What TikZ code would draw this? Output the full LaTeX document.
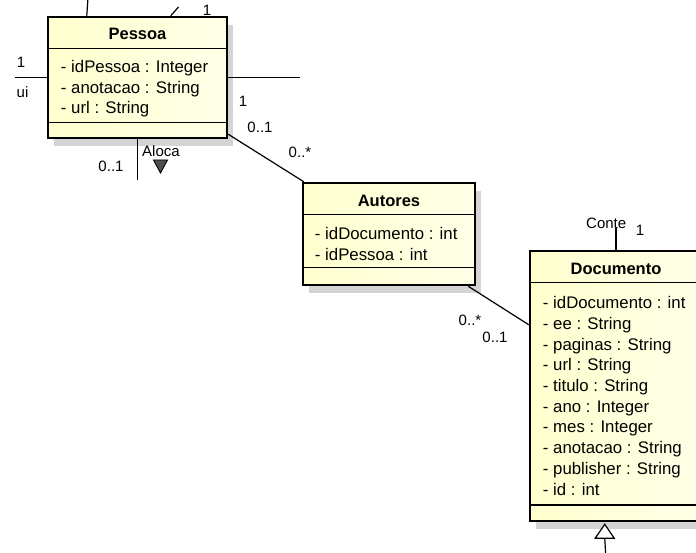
\documentclass[tikz,border=0pt]{standalone}
\usepackage{fontspec}
\setmainfont{Liberation Sans}
\usetikzlibrary{calc,shadows}
\definecolor{classfillA}{RGB}{255,255,206}
\definecolor{classfillB}{RGB}{255,255,232}
\definecolor{classshade}{RGB}{212,212,212}
\definecolor{navfill}{RGB}{78,78,78}

\begin{document}
\begin{tikzpicture}[x=1pt,y=-1pt,
  classbox/.style={draw=black, line width=2.5pt, inner sep=0pt,
    left color=classfillA, right color=classfillB,
    drop shadow={shadow xshift=6pt, shadow yshift=-8pt, fill=classshade, opacity=1}},
  sepline/.style={draw=black, line width=1.5pt},
  classtitle/.style={font=\fontsize{16.5}{19}\selectfont\bfseries, inner sep=0pt, anchor=center},
  attr/.style={font=\fontsize{16.8}{20}\selectfont, inner sep=0pt, anchor=base west},
  mult/.style={font=\fontsize{15}{18}\selectfont, inner sep=0pt, anchor=center},
  assoc/.style={draw=black, line width=1.2pt}]

\useasboundingbox (0,0) rectangle (696,553);
\clip (0,0) rectangle (696,553);

% ---------- class Pessoa ----------
\node[classbox, minimum width=179pt, minimum height=121pt] (pessoa) at (137.5,77.5) {};
\draw[sepline] ($(pessoa.north west)+(0,33)$) -- ($(pessoa.north east)+(0,33)$);
\draw[sepline] ($(pessoa.north west)+(0,107)$) -- ($(pessoa.north east)+(0,107)$);
\node[classtitle] (pessoa-name) at ($(pessoa.north)+(0,18)$) {Pessoa};
\foreach \t [count=\i, evaluate=\i as \dy using 57+20.3*(\i-1)] in
  {- idPessoa : Integer, - anotacao : String, - url : String}
  \node[attr] (pessoa-a\i) at ($(pessoa.north west)+(14,\dy)$) {\t};

% ---------- class Autores ----------
\node[classbox, minimum width=172pt, minimum height=102pt] (autores) at (389,234) {};
\draw[sepline] ($(autores.north west)+(0,33)$) -- ($(autores.north east)+(0,33)$);
\draw[sepline] ($(autores.north west)+(0,86)$) -- ($(autores.north east)+(0,86)$);
\node[classtitle] (autores-name) at ($(autores.north)+(0,19)$) {Autores};
\foreach \t [count=\i, evaluate=\i as \dy using 57.7+21*(\i-1)] in
  {- idDocumento : int, - idPessoa : int}
  \node[attr] (autores-a\i) at ($(autores.north west)+(13,\dy)$) {\t};

% ---------- class Documento ----------
\node[classbox, minimum width=172pt, minimum height=270pt] (documento) at (616,386) {};
\draw[sepline] ($(documento.north west)+(0,33)$) -- ($(documento.north east)+(0,33)$);
\draw[sepline] ($(documento.north west)+(0,255)$) -- ($(documento.north east)+(0,255)$);
\node[classtitle] (documento-name) at ($(documento.north)+(0,19)$) {Documento};
\foreach \t [count=\i, evaluate=\i as \dy using 59+20.7*(\i-1)] in
  {- idDocumento : int, - ee : String, - paginas : String, - url : String,
   - titulo : String, - ano : Integer, - mes : Integer, - anotacao : String,
   - publisher : String, - id : int}
  \node[attr] (documento-a\i) at ($(documento.north west)+(14,\dy)$) {\t};

% ---------- association Pessoa -- Autores ----------
\draw[assoc] ($(pessoa.south east)+(0,-5)$) -- ($(autores.north west)+(2,0)$);
\node[mult] (m-pa1) at (243,101) {1};
\node[mult] (m-pa2) at (260,127.5) {0..1};
\node[mult] (m-pa3) at (300,152.5) {0..*};

% ---------- association Autores -- Documento ----------
\draw[assoc] ($(autores.south east)+(-8,0)$) -- ($(documento.north west)+(0,75)$);
\node[mult] (m-ad1) at (470,320) {0..*};
\node[mult] (m-ad2) at (495,337.5) {0..1};

% ---------- stubs of further associations of Pessoa ----------
\coordinate (left-end) at (15,77.5);
\draw[assoc] (pessoa.west) -- (left-end);
\node[mult] (m-left1) at (21,62.5) {1};
\node[mult] (m-left2) at (22.5,92) {ui};

\coordinate (right-end) at (300,77.5);
\draw[assoc] (pessoa.east) -- (right-end);

\coordinate (top-end) at (88,-2);
\draw[assoc] ($(pessoa.north west)+(40,0)$) -- (top-end);
\coordinate (slant-end) at (178.5,7);
\draw[assoc] ($(pessoa.north west)+(124,0)$) -- (slant-end);
\node[mult] (m-top) at (207,10.5) {1};

% Aloca (self association) with its reading direction marker
\coordinate (aloca-end) at (137.5,180);
\draw[assoc] (pessoa.south) -- (aloca-end);
\node[mult] (aloca) at (161,151) {Aloca};
\node[mult] (m-aloca) at (111,166) {0..1};
\coordinate (aloca-dir) at (160.5,173);
\filldraw[fill=navfill, draw=black, line width=0.9pt]
  (aloca-dir) -- ++(-7,-13) -- ++(14,0) -- cycle;

% ---------- stubs of further associations of Documento ----------
\coordinate (conte-end) at (616,228);
\draw[assoc] (documento.north) -- (conte-end);
\node[mult, anchor=west] (conte) at (586,223.5) {Conte};
\node[mult] (m-conte) at (640,230) {1};

% generalisation arrow under Documento
\coordinate (gen-tip) at ($(documento.south west)+(76,2)$);
\coordinate (gen-end) at (606,560);
\draw[assoc] ($(gen-tip)+(0,14)$) -- (gen-end);
\draw[draw=black, fill=white, line width=1.2pt]
  (gen-tip) -- ++(-9.5,14) -- ++(19,0) -- cycle;

\end{tikzpicture}
\end{document}
